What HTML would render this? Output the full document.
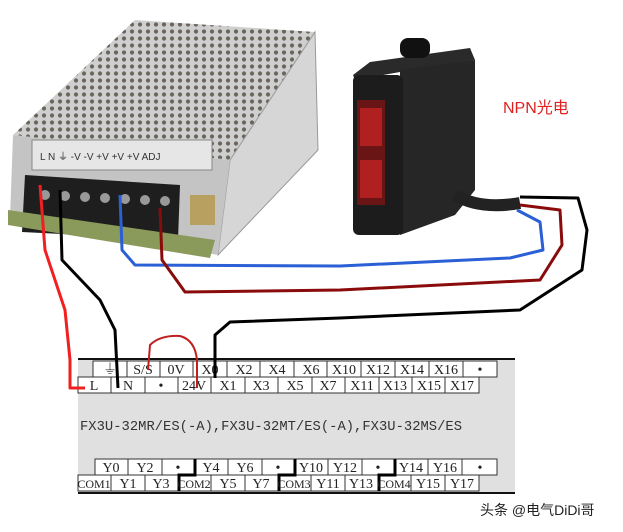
<!DOCTYPE html>
<html><head><meta charset="utf-8"><style>
html,body{margin:0;padding:0;background:#fff;width:623px;height:532px;overflow:hidden}
svg{display:block}
.t{font-family:"Liberation Serif","Noto Serif CJK SC",serif;font-size:14px;fill:#222}
</style></head><body>
<svg width="623" height="532" viewBox="0 0 623 532" xmlns="http://www.w3.org/2000/svg">
<defs>
<pattern id="holes" width="8" height="7" patternUnits="userSpaceOnUse">
<rect width="8" height="7" fill="#cfcfcf"/><circle cx="4" cy="3.5" r="2.1" fill="#6a665e"/>
</pattern>
</defs>
<polygon points="13,135 135,20 315,32 230,160" fill="url(#holes)"/>
<polygon points="230,160 315,32 318,150 218,255" fill="#d6d6d6" stroke="#999" stroke-width="1"/>
<polygon points="13,135 230,160 218,255 10,218" fill="#c4c4c4"/>
<rect x="32" y="140" width="180" height="30" fill="#e6e6e6" stroke="#888"/>
<text x="40" y="160" font-family="Liberation Sans" font-size="10" fill="#333">L  N   ⏚   -V   -V  +V  +V  +V ADJ</text>
<polygon points="25,175 180,185 178,240 22,232" fill="#1e1e1e"/>
<g fill="#999"><circle cx="45" cy="195" r="5"/><circle cx="65" cy="196" r="5"/><circle cx="85" cy="197" r="5"/><circle cx="105" cy="198" r="5"/><circle cx="125" cy="199" r="5"/><circle cx="145" cy="200" r="5"/><circle cx="165" cy="201" r="5"/></g>
<polygon points="8,210 215,240 210,258 8,225" fill="#8a9a5a"/>
<rect x="190" y="195" width="25" height="30" fill="#b8a060"/>
<polygon points="353,75 370,62 470,48 475,60 400,72 355,80" fill="#2a2a2a"/>
<rect x="400" y="38" width="30" height="20" rx="8" fill="#111"/>
<polygon points="400,70 475,60 475,190 455,215 400,235" fill="#262626"/>
<rect x="353" y="75" width="50" height="160" rx="6" fill="#1c1c1c"/>
<rect x="357" y="100" width="28" height="105" fill="#6a1515"/>
<rect x="360" y="108" width="22" height="38" fill="#b02020"/>
<rect x="360" y="160" width="22" height="38" fill="#b02020"/>
<path d="M455,195 Q480,210 520,203" stroke="#222" stroke-width="12" fill="none"/>
<text x="503" y="113" font-family="Liberation Sans,Noto Sans CJK SC,sans-serif" font-size="16" fill="#e02020">NPN光电</text>
<rect x="78" y="360" width="437" height="133" fill="#e0e0e0"/>
<line x1="78" y1="359" x2="515" y2="359" stroke="#111" stroke-width="2"/>
<line x1="78" y1="493" x2="515" y2="493" stroke="#111" stroke-width="2"/>
<g stroke="#333" stroke-width="1" fill="#fff">
<rect x="93" y="361" width="404" height="16"/>
<rect x="78" y="377" width="401" height="16"/>
<rect x="95" y="459" width="402" height="16"/>
<rect x="78" y="475" width="401" height="16"/>
</g>
<g stroke="#333" stroke-width="1">
<path d="M127,361v16M160,361v16M193,361v16M227,361v16M260,361v16M294,361v16M327,361v16M361,361v16M395,361v16M429,361v16M463,361v16"/>
<path d="M111,377v16M145,377v16M178,377v16M211,377v16M245,377v16M278,377v16M312,377v16M345,377v16M379,377v16M412,377v16M445,377v16"/>
<path d="M128,459v16M162,459v16M228,459v16M262,459v16M328,459v16M362,459v16M428,459v16M462,459v16"/>
<path d="M111,475v16M145,475v16M211,475v16M245,475v16M311,475v16M345,475v16M411,475v16M445,475v16"/>
</g>
<g stroke="#000" stroke-width="3" fill="none">
<path d="M195,459v16h-16v16M295,459v16h-16v16M395,459v16h-16v16"/>
</g>
<g class="t" text-anchor="middle">
<text x="110" y="374">⏚</text><text x="143" y="374">S/S</text><text x="176" y="374">0V</text><text x="210" y="374">X0</text><text x="244" y="374">X2</text><text x="277" y="374">X4</text><text x="311" y="374">X6</text><text x="344" y="374">X10</text><text x="378" y="374">X12</text><text x="412" y="374">X14</text><text x="446" y="374">X16</text><text x="480" y="374">•</text>
<text x="94" y="390">L</text><text x="128" y="390">N</text><text x="161" y="390">•</text><text x="194" y="390">24V</text><text x="228" y="390">X1</text><text x="261" y="390">X3</text><text x="295" y="390">X5</text><text x="328" y="390">X7</text><text x="362" y="390">X11</text><text x="395" y="390">X13</text><text x="429" y="390">X15</text><text x="462" y="390">X17</text>
<text x="111" y="472">Y0</text><text x="145" y="472">Y2</text><text x="178" y="472">•</text><text x="211" y="472">Y4</text><text x="245" y="472">Y6</text><text x="278" y="472">•</text><text x="311" y="472">Y10</text><text x="345" y="472">Y12</text><text x="378" y="472">•</text><text x="411" y="472">Y14</text><text x="445" y="472">Y16</text><text x="480" y="472">•</text>
<text x="94" y="488" font-size="12">COM1</text><text x="128" y="488">Y1</text><text x="161" y="488">Y3</text><text x="194" y="488" font-size="12">COM2</text><text x="228" y="488">Y5</text><text x="261" y="488">Y7</text><text x="294" y="488" font-size="12">COM3</text><text x="328" y="488">Y11</text><text x="361" y="488">Y13</text><text x="394" y="488" font-size="12">COM4</text><text x="428" y="488">Y15</text><text x="462" y="488">Y17</text>
</g>
<text x="80" y="430" font-family="Liberation Mono,monospace" font-size="13.8" fill="#333" textLength="382">FX3U-32MR/ES(-A),FX3U-32MT/ES(-A),FX3U-32MS/ES</text>
<g fill="none" stroke-width="3" stroke-linejoin="round">
<path d="M40,185 L45,250 L65,310 L70,360 L70,388 L85,388" stroke="#f02020"/>
<path d="M60,190 L62,260 L100,300 L115,330 L118,388" stroke="#000"/>
<path d="M120,195 L122,250 L135,265 L340,266 L510,258 L543,250 L540,222 L517,210" stroke="#2a5fd6"/>
<path d="M160,208 L162,260 L185,292 L340,290 L540,280 L562,245 L560,210 L520,205" stroke="#8a0b0b"/>
<path d="M520,197 L578,198 L587,230 L582,270 L520,310 L340,318 L230,322 L215,335 L215,378" stroke="#000"/>
<path d="M148,370 L150,345 Q160,335 180,336 Q195,340 197,360 L197,388" stroke="#c02020" stroke-width="2"/>
</g>
<text x="480" y="515" font-family="Liberation Sans,Noto Sans CJK SC,sans-serif" font-size="14" fill="#222">头条 @电气DiDi哥</text>
</svg>
</body></html>
